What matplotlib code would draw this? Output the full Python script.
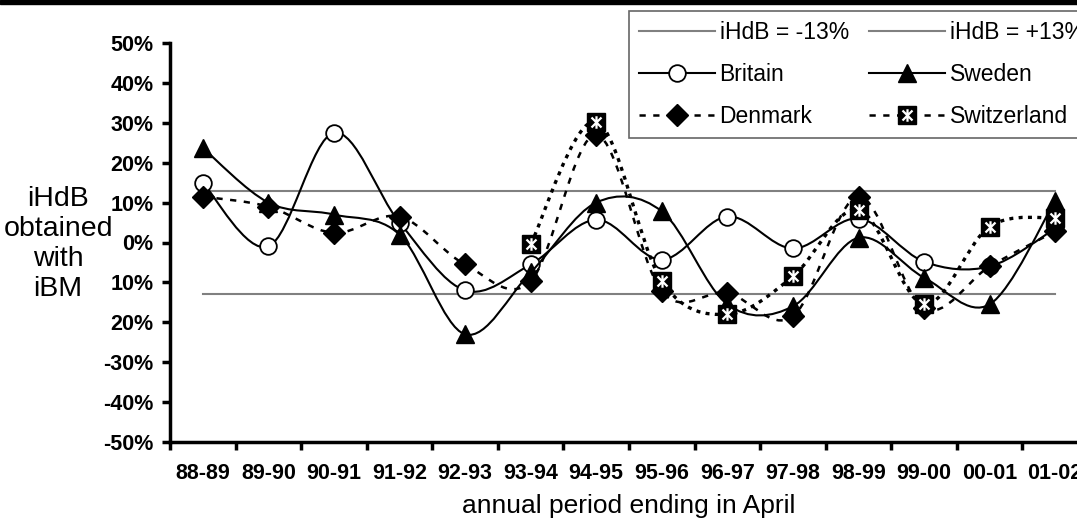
import numpy as np
import matplotlib
matplotlib.use("Agg")
import matplotlib.pyplot as plt
from matplotlib.path import Path
from matplotlib.patches import PathPatch, Rectangle
from matplotlib.lines import Line2D

plt.rcParams['font.family'] = ['Liberation Sans', 'DejaVu Sans']

# data (iHdB in %)
periods = ['88-89', '89-90', '90-91', '91-92', '92-93', '93-94', '94-95',
           '95-96', '96-97', '97-98', '98-99', '99-00', '00-01', '01-02']
britain = [15, -1, 27.5, 5, -12, -5.5, 5.7, -4.3, 6.5, -1.5, 6, -4.8, -6, 3.5]
sweden = [23.7, 10, 7, 2, -23, -7.5, 10, 7.8, -15.5, -16, 1.2, -8.8, -15.5, 10.5]
denmark = [11.5, 9, 2.4, 6.5, -5.5, -9.7, 27, -12.2, -12.6, -18.5, 11.5, -16.5, -6, 2.8]
switzerland = [np.nan, np.nan, np.nan, np.nan, np.nan, -0.5, 30.3, -9.7, -18,
               -8.5, 8.2, -15.5, 4, 6.2]
thresholds = [-13, 13]
ytick_vals = [50, 40, 30, 20, 10, 0, -10, -20, -30, -40, -50]
ytick_text = ['50%', '40%', '30%', '20%', '10%', '0%', '10%', '20%', '-30%', '-40%', '-50%']


def smooth_path(xs, ys):
    # excel-style smoothed line: cubic bezier through the points
    pts = np.column_stack([xs, ys])
    n = len(pts)
    verts = [pts[0]]
    codes = [Path.MOVETO]
    for i in range(n - 1):
        p0 = pts[max(i - 1, 0)]
        p1 = pts[i]
        p2 = pts[i + 1]
        p3 = pts[min(i + 2, n - 1)]
        verts += [p1 + (p2 - p0) / 6, p2 - (p3 - p1) / 6, p2]
        codes += [Path.CURVE4] * 3
    return Path(verts, codes)


star = Path([(0, -1), (0, 1), (-0.8, -0.8), (0.8, 0.8), (-0.8, 0.8), (0.8, -0.8)],
            [Path.MOVETO, Path.LINETO, Path.MOVETO, Path.LINETO, Path.MOVETO, Path.LINETO])

fig = plt.figure(figsize=(10.77, 5.21), dpi=100)
ax = fig.add_axes([170 / 1077, 79 / 521, 918 / 1077, 399 / 521])

x = np.arange(len(periods))

# threshold lines
for t in thresholds:
    ax.plot([x[0], x[-1]], [t, t], color='#808080', lw=1.5, zorder=1)

series = [
    ('Britain', britain, '-', 1.5, dict(marker='o', ms=12, mfc='white', mec='black', mew=1.3)),
    ('Sweden', sweden, '-', 1.5, dict(marker='^', ms=13, mfc='black', mec='black')),
    ('Denmark', denmark, (0, (2.5, 3)), 1.8, dict(marker='D', ms=11.5, mfc='black', mec='black')),
    ('Switzerland', switzerland, (0, (1.2, 1.6)), 2.4, dict(marker='s', ms=13, mfc='black', mec='black')),
]

handles = {}
z = 3
for name, vals, ls, lw, mk in series:
    vals = np.array(vals, dtype=float)
    ok = ~np.isnan(vals)
    ax.add_patch(PathPatch(smooth_path(x[ok], vals[ok]), fill=False, edgecolor='black',
                           lw=lw, linestyle=ls, zorder=z, capstyle='butt'))
    ax.plot(x[ok], vals[ok], linestyle='none', zorder=z + 1, **mk)
    if name == 'Switzerland':
        ax.plot(x[ok], vals[ok], linestyle='none', marker=star, ms=9, mec='white',
                mew=1.6, zorder=z + 2)
        h = Line2D([], [], color='black', lw=1.8, linestyle=(0, (2.5, 3)), **mk)
        h2 = Line2D([], [], linestyle='none', marker=star, ms=9, mec='white', mew=1.6)
        h = (h, h2)
    else:
        h = Line2D([], [], color='black', lw=lw, linestyle=ls, **mk)
    handles[name] = h
    z += 3

lo = Line2D([], [], color='#808080', lw=1.5)
hi = Line2D([], [], color='#808080', lw=1.5)

ax.set_xlim(-0.5, len(periods) - 0.5)
ax.set_ylim(-50, 50)
ax.set_yticks(ytick_vals)
ax.set_yticklabels(ytick_text, fontsize=15.5, fontweight='bold')
ax.set_xticks(x)
ax.set_xticklabels(periods, fontsize=15.5, fontweight='bold')
ax.set_xticks(np.arange(len(periods) + 1) - 0.5, minor=True)
ax.tick_params(axis='x', which='major', length=0, pad=15)
ax.tick_params(axis='x', which='minor', length=6, width=2.5, direction='out')
ax.tick_params(axis='y', length=6, width=2.5, direction='out', pad=6)

for s in ['top', 'right']:
    ax.spines[s].set_visible(False)
for s in ['left', 'bottom']:
    ax.spines[s].set_linewidth(2.5)

ax.set_xlabel('annual period ending in April', fontsize=19, labelpad=7)
ax.set_ylabel('iHdB\nobtained\nwith\niBM', fontsize=20.5, rotation=0, ha='center',
              va='center', linespacing=1.2)
ax.yaxis.set_label_coords(-0.122, 0.496)

leg = fig.legend([lo, handles['Britain'], handles['Denmark'], hi, handles['Sweden'],
                  handles['Switzerland']],
                 ['iHdB = -13%', 'Britain', 'Denmark', 'iHdB = +13%', 'Sweden', 'Switzerland'],
                 ncol=2, loc='upper left', bbox_to_anchor=(629 / 1077, 1 - 11 / 521),
                 borderaxespad=0, fontsize=16.5, frameon=True, fancybox=False,
                 handlelength=3.3, handletextpad=0.2, columnspacing=0.9,
                 labelspacing=0.82, borderpad=0.45)
leg.get_frame().set_edgecolor('#404040')
leg.get_frame().set_linewidth(1.2)

# black strip along the top edge
fig.patches.append(Rectangle((0, 1 - 4 / 521), 1, 4 / 521, transform=fig.transFigure,
                             color='black', zorder=10))

fig.savefig('out.png', dpi=100)
